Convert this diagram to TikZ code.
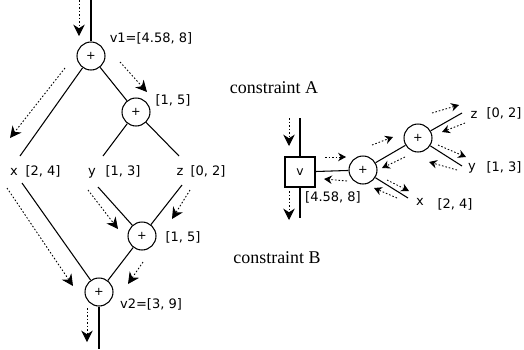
\documentclass[tikz,border=0pt]{standalone}
\usepackage{fontspec}
\setmainfont{Liberation Serif}
\newfontfamily\labfont{DejaVu Sans}
\usetikzlibrary{arrows.meta}
\tikzset{
  op/.style={draw, circle, minimum size=0.56cm, inner sep=0pt, line width=0.6pt, font=\labfont\fontsize{6.5}{7}\selectfont},
  vbox/.style={draw, rectangle, minimum size=0.6cm, inner sep=0pt, line width=0.6pt, font=\labfont\fontsize{7}{8}\selectfont},
  edge/.style={line width=0.6pt},
  flow/.style={line width=0.5pt, dash pattern=on 0.9pt off 1.1pt, -{Stealth[length=6.5pt,width=6.5pt]}},
  sflow/.style={line width=0.5pt, dash pattern=on 0.9pt off 1.1pt, -{Stealth[length=4.5pt,width=4.8pt]}},
  lab/.style={font=\labfont\fontsize{7.4}{8}\selectfont, inner sep=0pt},
  title/.style={font=\fontsize{10.2}{12}\selectfont, inner sep=0pt}
}
\begin{document}
\begin{tikzpicture}[x=0.02cm,y=-0.02cm]
\useasboundingbox (0,0) rectangle (524,349);
% ---------- left diagram ----------
\coordinate (top1) at (91,0);
\node[op] (v1) at (91,56) {+};
\node[op] (n2) at (136,112) {+};
\node[op] (n3) at (142,236) {+};
\node[op] (v2) at (99,292) {+};
\coordinate (bot) at (99,349);
\coordinate (xa) at (20,156); \coordinate (xb) at (22,183);
\coordinate (ya) at (103,156); \coordinate (yb) at (98,187);
\coordinate (za) at (179,156); \coordinate (zb) at (182,185);

\node[lab] (lv1) at (151,38) {v1=[4.58, 8]};
\node[lab] (ln2) at (173,100) {[1, 5]};
\node[lab] (ln3) at (183,237) {[1, 5]};
\node[lab] (lv2) at (151,304) {v2=[3, 9]};
\node[lab] (lx) at (14,172) {x};
\node[lab] (lx2) at (43,171) {[2, 4]};
\node[lab] (ly) at (92,173) {y};
\node[lab] (ly2) at (123,171) {[1, 3]};
\node[lab] (lz) at (180,172) {z};
\node[lab] (lz2) at (208,171) {[0, 2]};

\draw[edge] (top1) -- (v1);
\draw[edge] (v1) -- (xa);
\draw[edge] (v1) -- (n2);
\draw[edge] (n2) -- (ya);
\draw[edge] (n2) -- (za);
\draw[edge] (xb) -- (v2);
\draw[edge] (yb) -- (n3);
\draw[edge] (zb) -- (n3);
\draw[edge] (n3) -- (v2);
\draw[edge] (v2) -- (bot);

\draw[flow] (79,0) -- (79,36);
\draw[flow] (65,68) -- (10,138);
\draw[flow] (120,62) -- (147,92);
\draw[flow] (7,188) -- (73,286);
\draw[flow] (88,190) -- (118,229);
\draw[flow] (190,190) -- (172,219);
\draw[flow] (143,262) -- (128,284);
\draw[flow] (87,308) -- (87,342);

% ---------- titles ----------
\node[title] (ca) at (274,88) {constraint A};
\node[title] (cb) at (277,258) {constraint B};

% ---------- right diagram ----------
\coordinate (vt) at (300,118);
\node[vbox] (v) at (300,172) {v};
\coordinate (vb) at (300,218);
\node[op] (c1) at (363,170) {+};
\node[op] (c2) at (418,138) {+};
\coordinate (rz) at (462,113);
\coordinate (ry) at (462,166);
\coordinate (rx) at (408,198);

\node[lab] (lv) at (333,197) {[4.58, 8]};
\node[lab] (lrz) at (474,115) {z};
\node[lab] (lrz2) at (504,113) {[0, 2]};
\node[lab] (lry) at (472,168) {y};
\node[lab] (lry2) at (504,167) {[1, 3]};
\node[lab] (lrx) at (420,202) {x};
\node[lab] (lrx2) at (455,204) {[2, 4]};

\draw[edge] (vt) -- (v);
\draw[edge] (v) -- (vb);
\draw[edge] (v) -- (c1);
\draw[edge] (c1) -- (c2);
\draw[edge] (c2) -- (rz);
\draw[edge] (c2) -- (ry);
\draw[edge] (c1) -- (rx);

\draw[flow] (289,118) -- (289,146);
\draw[flow] (289,191) -- (289,220);
\draw[sflow] (325,157) -- (346,157);
\draw[sflow] (347,181) -- (324,179);
\draw[sflow] (372,145) -- (393,137);
\draw[sflow] (405,157) -- (382,168);
\draw[sflow] (432,113) -- (459,105);
\draw[sflow] (465,123) -- (442,132);
\draw[sflow] (438,145) -- (466,157);
\draw[sflow] (457,170) -- (429,162);
\draw[sflow] (387,180) -- (409,191);
\draw[sflow] (397,198) -- (374,188);
\end{tikzpicture}
\end{document}
